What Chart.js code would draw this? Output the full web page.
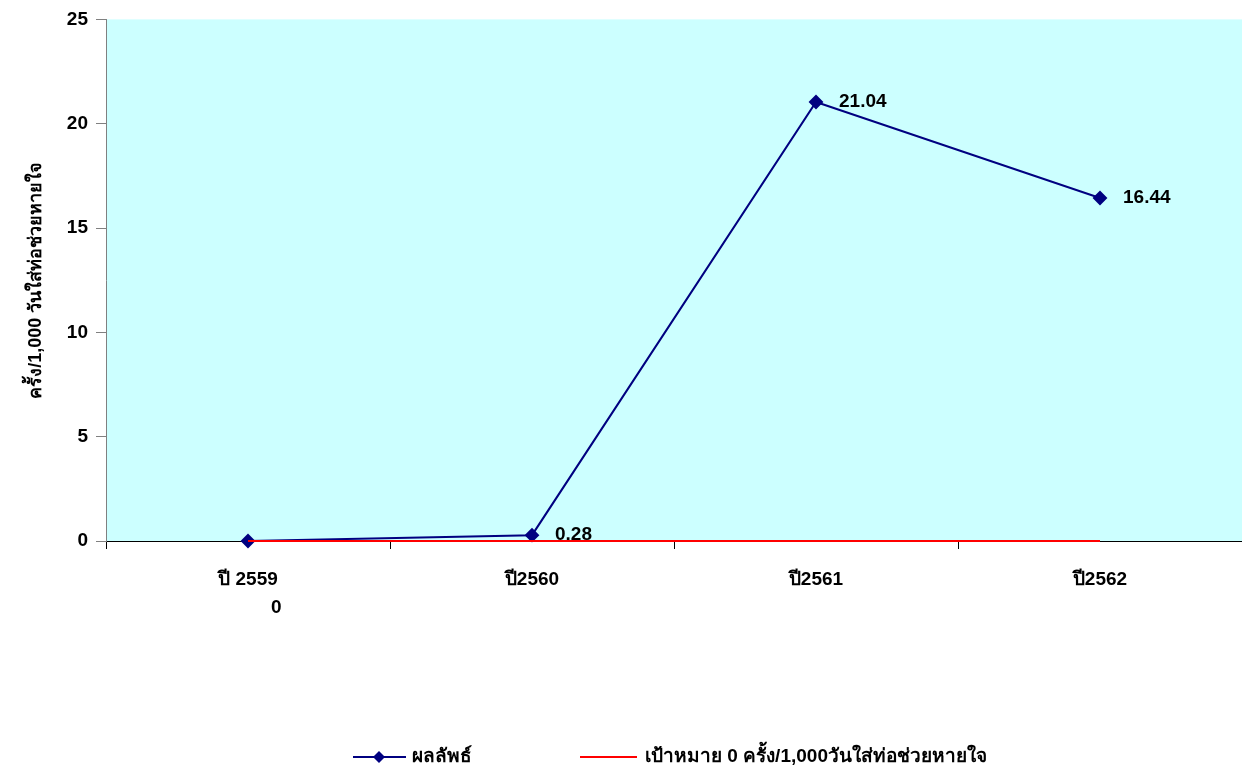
<!DOCTYPE html>
<html>
<head>
  <meta charset="UTF-8">
  <title>ผลลัพธ์</title>
  <style>
    body { margin: 0; background: #fff; }
    #wrap { width: 1242px; height: 771px; }
  </style>
</head>
<script src="https://cdn.jsdelivr.net/npm/chart.js@4.4.1/dist/chart.umd.min.js"></script>
<body>
  <div id="wrap"><canvas id="myChart" width="1242" height="771"></canvas></div>

  <script>
    var years = ["ปี 2559", "ปี2560", "ปี2561", "ปี2562"];
    var results = [0, 0.28, 21.04, 16.44];
    var target = [0, 0, 0, 0];
    var yTicks = [0, 5, 10, 15, 20, 25];
    var yTitle = "ครั้ง/1,000 วันใส่ท่อช่วยหายใจ";
    var legendNames = ["ผลลัพธ์", "เป้าหมาย 0 ครั้ง/1,000วันใส่ท่อช่วยหายใจ"];

    var FONT = "'Liberation Sans', Arial, 'Noto Sans', sans-serif";

    // cyan plot background
    var plotBg = {
      id: "plotBg",
      beforeDraw: function (chart) {
        var a = chart.chartArea, ctx = chart.ctx;
        ctx.save();
        ctx.fillStyle = "#CCFFFF";
        ctx.fillRect(a.left, a.top, a.right - a.left, a.bottom - a.top);
        ctx.restore();
      }
    };

    // value labels to the right of each point
    var valueLabels = {
      id: "valueLabels",
      afterDatasetsDraw: function (chart) {
        var ctx = chart.ctx;
        var meta = chart.getDatasetMeta(0);
        ctx.save();
        ctx.font = "bold 19px " + FONT;
        ctx.fillStyle = "#000";
        ctx.textAlign = "left";
        ctx.textBaseline = "middle";
        meta.data.forEach(function (pt, i) {
          var dy = i === 0 ? 67 : 0;
          ctx.fillText(String(results[i]), pt.x + 23, pt.y + dy);
        });
        ctx.restore();
      }
    };

    // legend at bottom
    var bottomLegend = {
      id: "bottomLegend",
      afterDraw: function (chart) {
        var ctx = chart.ctx;
        var y = 757;
        ctx.save();
        ctx.lineWidth = 2;
        ctx.strokeStyle = "#000080";
        ctx.beginPath(); ctx.moveTo(353, y); ctx.lineTo(406, y); ctx.stroke();
        ctx.fillStyle = "#000080";
        ctx.beginPath();
        ctx.moveTo(379, y - 6); ctx.lineTo(385, y); ctx.lineTo(379, y + 6); ctx.lineTo(373, y);
        ctx.closePath(); ctx.fill();
        ctx.strokeStyle = "#FF0000";
        ctx.beginPath(); ctx.moveTo(580, y); ctx.lineTo(637, y); ctx.stroke();
        ctx.font = "bold 19px " + FONT;
        ctx.fillStyle = "#000";
        ctx.textBaseline = "middle";
        ctx.fillText(legendNames[0], 412, y);
        ctx.fillText(legendNames[1], 645, y);
        ctx.restore();
      }
    };

    new Chart("myChart", {
      type: "line",
      data: {
        labels: years,
        datasets: [{
          label: legendNames[0],
          data: results,
          borderColor: "#000080",
          backgroundColor: "#000080",
          borderWidth: 2,
          pointStyle: "rectRot",
          pointRadius: 6,
          pointHoverRadius: 6,
          clip: false,
          order: 2
        }, {
          label: legendNames[1],
          data: target,
          borderColor: "#FF0000",
          backgroundColor: "#FF0000",
          borderWidth: 2,
          pointRadius: 0,
          clip: false,
          order: 1
        }]
      },
      options: {
        responsive: false,
        animation: false,
        layout: { autoPadding: false, padding: { top: 19, right: -4, bottom: 0, left: 0 } },
        plugins: {
          legend: { display: false },
          tooltip: { enabled: false }
        },
        scales: {
          x: {
            offset: true,
            grid: { display: true, drawOnChartArea: false, offset: true, tickLength: 8, color: "#000", lineWidth: 1 },
            border: { display: true, color: "#000", width: 1 },
            ticks: { color: "#000", font: { family: FONT, size: 19, weight: "bold" }, padding: 19, maxRotation: 0 },
            afterFit: function (scale) { scale.height = 230; }
          },
          y: {
            min: 0,
            max: 25,
            afterBuildTicks: function (scale) { scale.ticks = yTicks.map(function (v) { return { value: v }; }); },
            grid: { display: true, drawOnChartArea: false, tickLength: 10, color: "#808080", lineWidth: 1 },
            border: { display: true, color: "#808080", width: 1 },
            ticks: { color: "#000", font: { family: FONT, size: 19, weight: "bold" }, padding: 8 },
            title: {
              display: true,
              text: yTitle,
              color: "#000",
              font: { family: FONT, size: 18, weight: "bold" },
              padding: { top: 25, bottom: 0 }
            },
            afterFit: function (scale) { scale.width = 106; }
          }
        }
      },
      plugins: [plotBg, valueLabels, bottomLegend]
    });
  </script>
</body>
</html>
